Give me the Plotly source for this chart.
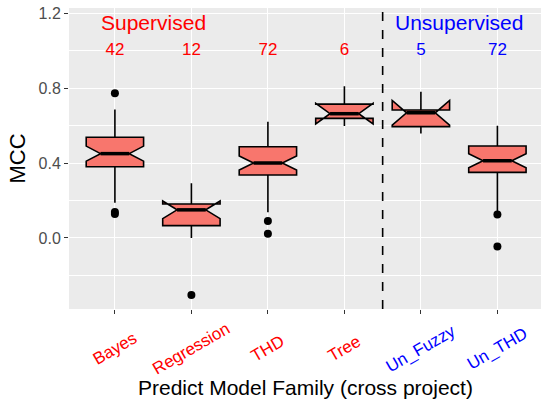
import plotly.graph_objects as go

categories = ["Bayes", "Regression", "THD", "Tree", "Un_Fuzzy", "Un_THD"]
family = ["Supervised", "Supervised", "Supervised", "Supervised", "Unsupervised", "Unsupervised"]
counts = [42, 12, 72, 6, 5, 72]
q1 = [0.380, 0.066, 0.336, 0.638, 0.594, 0.350]
median = [0.450, 0.150, 0.400, 0.663, 0.668, 0.412]
q3 = [0.537, 0.181, 0.487, 0.714, 0.683, 0.491]
lowerfence = [0.188, 0.000, 0.137, 0.597, 0.558, 0.130]
upperfence = [0.686, 0.292, 0.620, 0.810, 0.780, 0.599]
notchspan = [0.040, 0.047, 0.038, 0.055, 0.066, 0.037]
outlier_cat = ["Bayes", "Bayes", "Bayes", "Regression", "THD", "THD", "Un_THD", "Un_THD"]
outlier_val = [0.772, 0.138, 0.128, -0.304, 0.091, 0.023, 0.125, -0.046]
y_ticks = [0.0, 0.4, 0.8, 1.2]
group_labels = ["Supervised", "Unsupervised"]

family_color = {"Supervised": "#FF0000", "Unsupervised": "#0000FF"}
FONT = "Liberation Sans, Arial, Helvetica, sans-serif"
BOX_W = 0.75
NOTCH = 0.25  # plotly: narrow part = (1 - 2*notchwidth) of box width

pos = list(range(1, len(categories) + 1))
idx = {c: p for c, p in zip(categories, pos)}
colors = [family_color[f] for f in family]

fig = go.Figure()

fig.add_trace(go.Box(
    x=pos, q1=q1, median=median, q3=q3,
    lowerfence=lowerfence, upperfence=upperfence,
    notchspan=notchspan, notched=True, notchwidth=NOTCH,
    width=BOX_W, whiskerwidth=0,
    fillcolor="#F8766D", line=dict(color="black", width=1.6),
    boxpoints=False, showlegend=False, hoverinfo="skip",
))

# thicker median segments (ggplot fatten)
mx, my = [], []
half = BOX_W / 2 * (1 - 2 * NOTCH)
for p, m in zip(pos, median):
    mx += [p - half, p + half, None]
    my += [m, m, None]
fig.add_trace(go.Scatter(x=mx, y=my, mode="lines",
                         line=dict(color="black", width=3.5),
                         showlegend=False, hoverinfo="skip"))

fig.add_trace(go.Scatter(
    x=[idx[c] for c in outlier_cat], y=outlier_val, mode="markers",
    marker=dict(color="black", size=8), showlegend=False, hoverinfo="skip"))

# counts
fig.add_trace(go.Scatter(
    x=pos, y=[1.0] * len(pos), mode="text", text=[str(c) for c in counts],
    textfont=dict(color=colors, size=17, family=FONT), textposition="middle center",
    showlegend=False, hoverinfo="skip"))

# group labels
for g in group_labels:
    members = [p for p, f in zip(pos, family) if f == g]
    gx = 1.5 if g == "Supervised" else (members[0] + members[-1]) / 2
    fig.add_annotation(x=gx, y=1.15, text=g, showarrow=False,
                       font=dict(color=family_color[g], size=21, family=FONT))

# rotated, centred category labels (ggplot angle=30, hjust=0.5)
for p, c, col in zip(pos, categories, colors):
    fig.add_annotation(x=p, y=-0.13, xref="x", yref="paper", text=c, showarrow=False,
                       textangle=-30, xanchor="center", yanchor="middle",
                       font=dict(color=col, size=17, family=FONT))

# x axis title
fig.add_annotation(x=0.5, y=-0.262, xref="paper", yref="paper",
                   text="Predict Model Family (cross project)", showarrow=False,
                   xanchor="center", yanchor="middle",
                   font=dict(color="black", size=21, family=FONT))

# separator
sep = (pos[family.index("Unsupervised")] + pos[family.index("Unsupervised") - 1]) / 2
fig.add_shape(type="line", x0=sep, x1=sep, y0=0, y1=1, yref="paper", xref="x",
              line=dict(color="black", width=1.6, dash="dash"))

fig.update_layout(
    width=541, height=403,
    margin=dict(l=69, r=0, t=8, b=94),
    paper_bgcolor="white", plot_bgcolor="#EBEBEB",
    font=dict(family=FONT, size=16, color="#4D4D4D"),
    xaxis=dict(
        range=[0.4, 6.57], tickmode="array", tickvals=pos, showticklabels=False,
        ticks="outside", ticklen=4, tickcolor="#333333",
        showgrid=True, gridcolor="white", gridwidth=1.3,
        zeroline=False, showline=False,
    ),
    yaxis=dict(
        range=[-0.379, 1.227], tickmode="array", tickvals=y_ticks,
        ticktext=[f"{v:.1f}" for v in y_ticks],
        ticks="outside", ticklen=4, tickcolor="#333333", tickfont=dict(size=16),
        showgrid=True, gridcolor="white", gridwidth=1.3, zeroline=False, showline=False,
        minor=dict(tickmode="array", tickvals=[-0.2, 0.2, 0.6, 1.0], showgrid=True,
                   gridcolor="white", gridwidth=0.6, ticks=""),
        title=dict(text="MCC", font=dict(size=22, color="black"), standoff=6),
    ),
)

fig.write_html("out.html", config={"displayModeBar": False},
               post_script="document.body.style.margin='0';")
